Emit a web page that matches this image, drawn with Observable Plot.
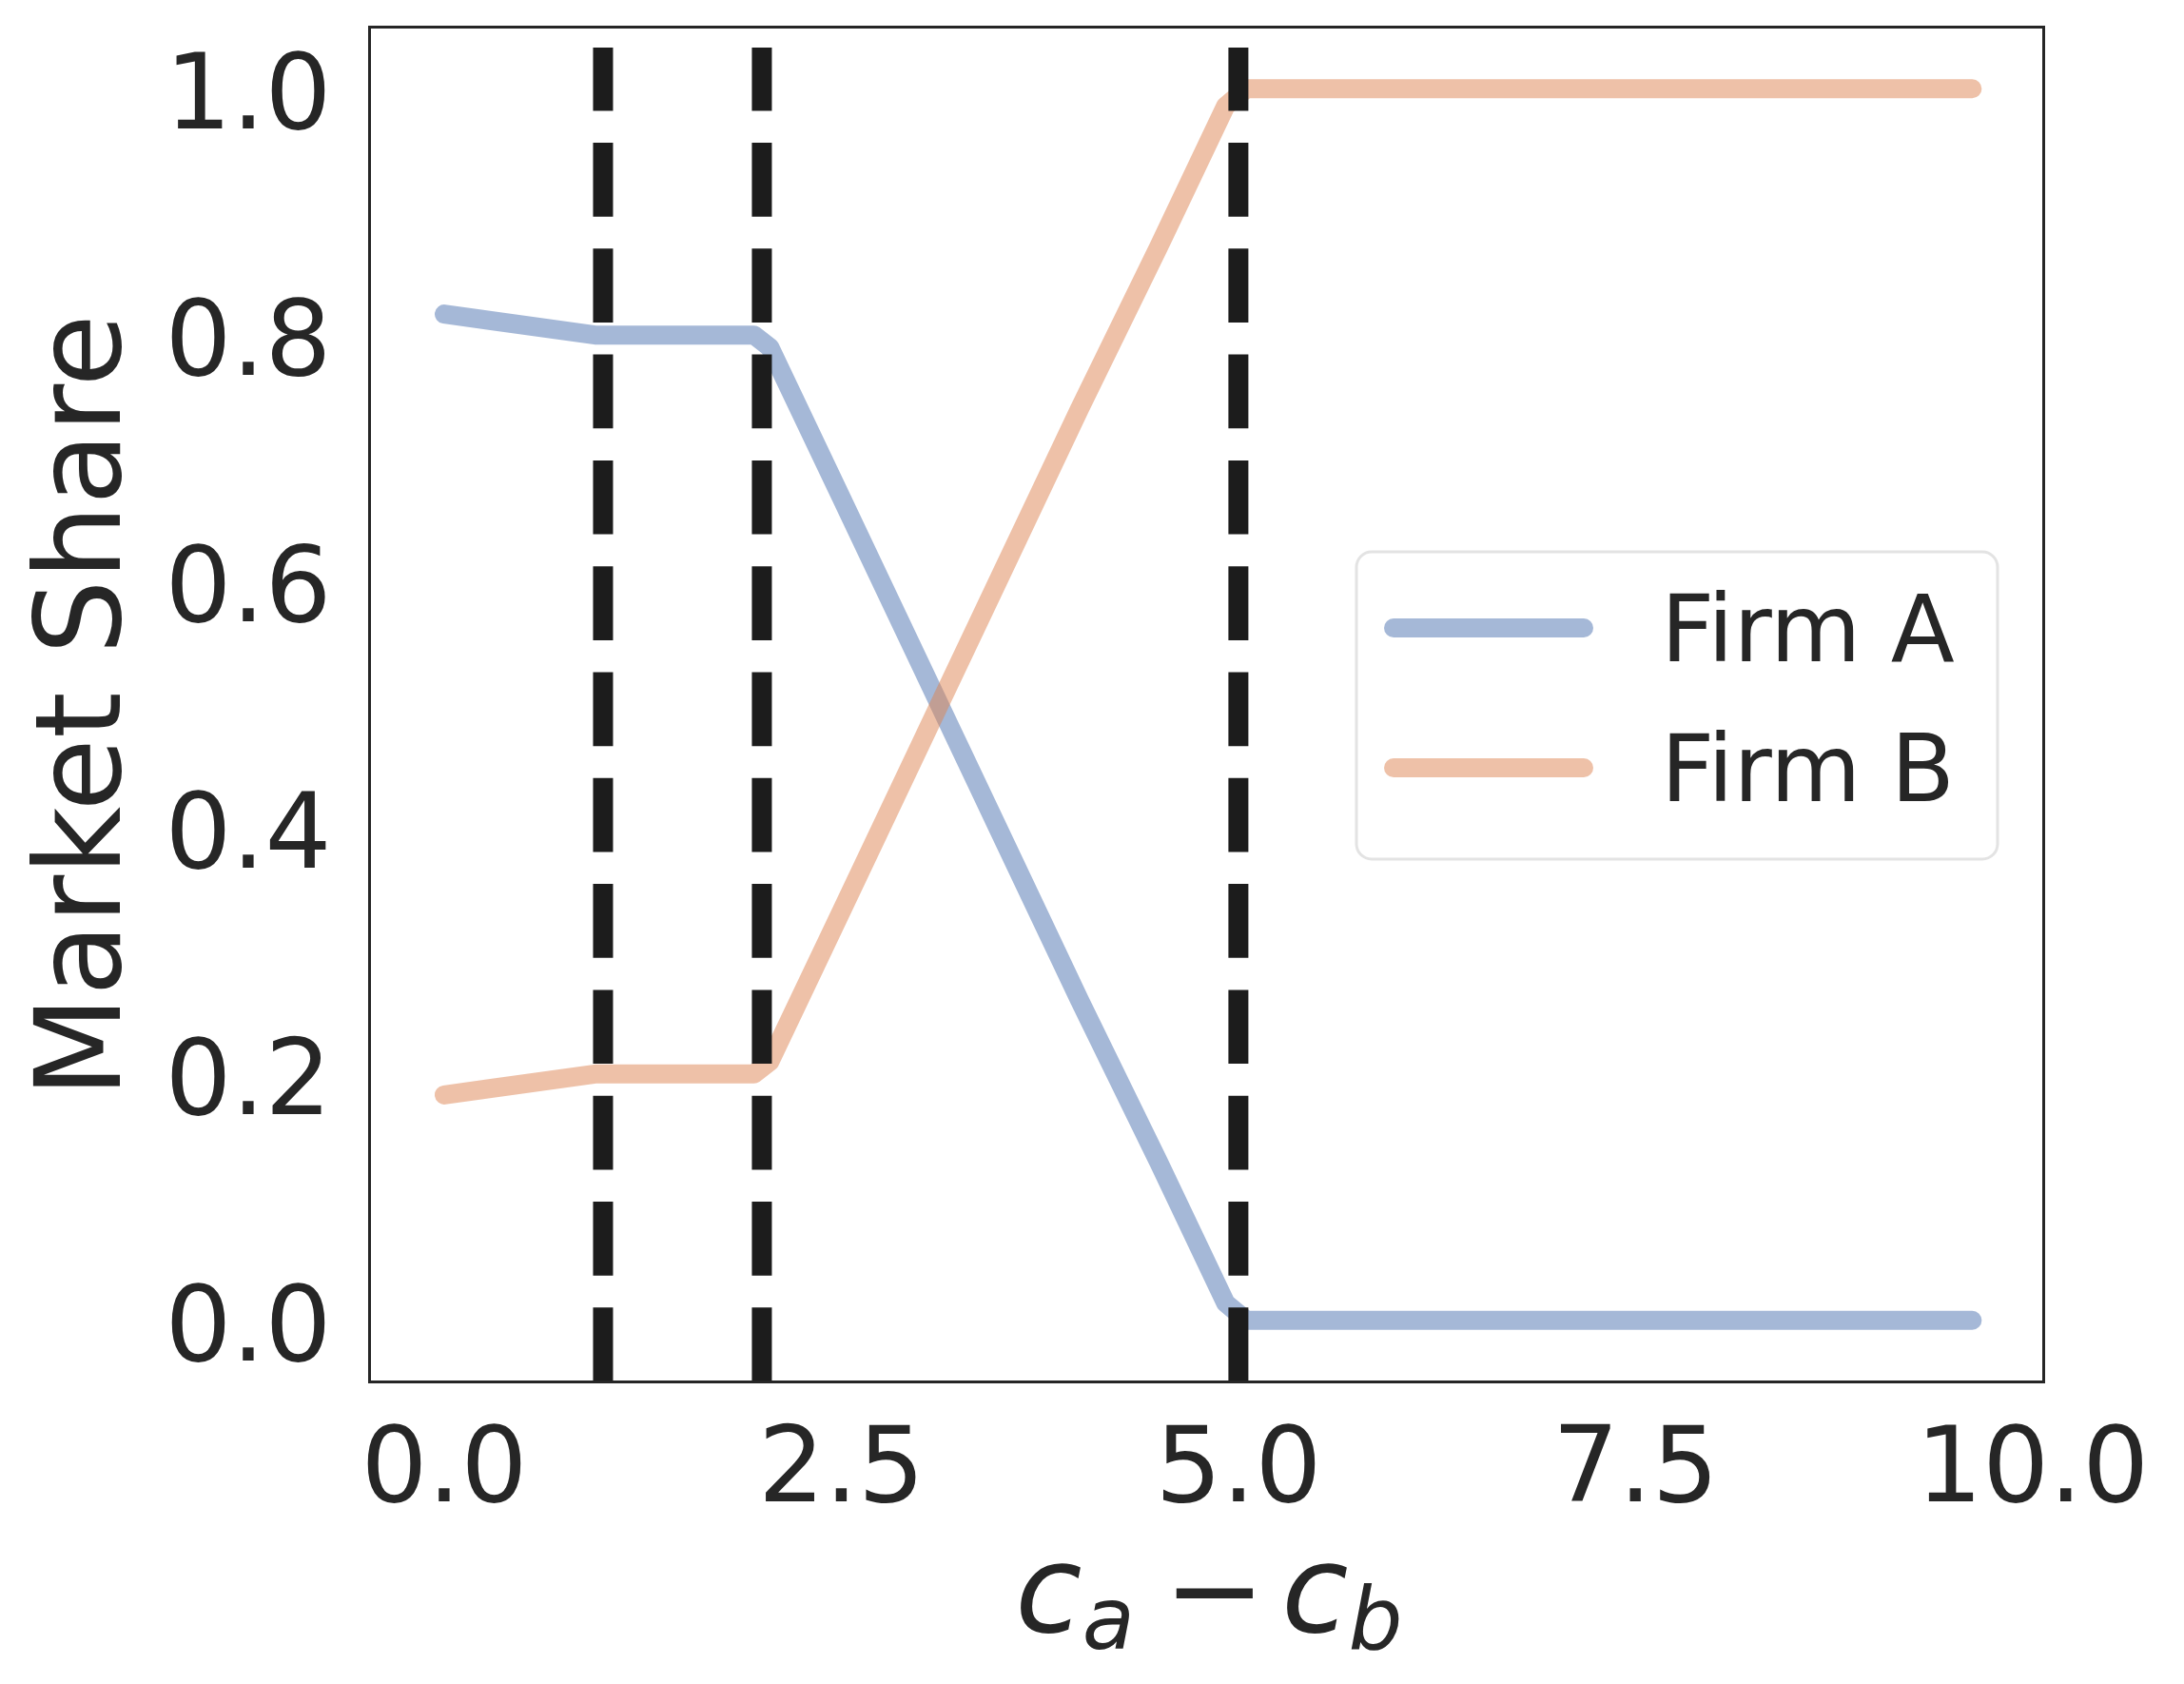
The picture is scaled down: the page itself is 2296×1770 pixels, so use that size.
<!DOCTYPE html>
<html>
<head>
<meta charset="utf-8">
<script src="https://cdn.jsdelivr.net/npm/d3@7"></script>
<script src="https://cdn.jsdelivr.net/npm/@observablehq/plot@0.6"></script>
<style>
  html, body { margin: 0; padding: 0; background: white; }
  #chart { width: 2296px; height: 1770px; }
</style>
</head>
<body>
<div id="chart"></div>
<script>
// ---- data ----
const costDiff = [0, 0.95, 1.95, 2.05, 2.5, 3.0, 3.5, 4.0, 4.5, 4.92, 5.05, 9.62];
const firmA   = [0.817, 0.80, 0.80, 0.79, 0.668, 0.532, 0.396, 0.26, 0.128, 0.014, 0.0, 0.0];
const firmB   = [0.183, 0.20, 0.20, 0.21, 0.332, 0.468, 0.604, 0.74, 0.872, 0.986, 1.0, 1.0];
const firms = ["Firm A", "Firm B"];
const firmColors = ["#4C72B0", "#DD8452"];
const thresholds = [1, 2, 5];
const xTicks = [0, 2.5, 5, 7.5, 10];
const yTicks = [0, 0.2, 0.4, 0.6, 0.8, 1.0];

const rows = [];
costDiff.forEach((x, i) => rows.push({x, share: firmA[i], firm: firms[0]}));
costDiff.forEach((x, i) => rows.push({x, share: firmB[i], firm: firms[1]}));

const fmt = d3.format(".1f");
const ink = "#262626";

const svg = Plot.plot({
  width: 2296,
  height: 1770,
  marginLeft: 388,
  marginRight: 148,
  marginTop: 28,
  marginBottom: 318,
  style: {fontFamily: "DejaVu Sans", fontSize: "110px", color: ink, background: "white"},
  x: {domain: [-0.47, 10.07]},
  y: {domain: [-0.05, 1.05]},
  color: {domain: firms, range: firmColors},
  marks: [
    Plot.axisX(xTicks, {tickSize: 0, tickPadding: 47, tickFormat: fmt, label: null, fontSize: 110}),
    Plot.axisY(yTicks, {tickSize: 0, tickPadding: 40, tickFormat: fmt, label: null, fontSize: 110, dy: 7}),
    Plot.line(rows, {
      x: "x", y: "share", z: "firm", stroke: "firm",
      strokeWidth: 20, strokeOpacity: 0.5,
      strokeLinecap: "round", strokeLinejoin: "round"
    }),
    Plot.ruleX(thresholds, {
      x: d => d, y1: () => -0.05, y2: () => 1.033,
      stroke: "#1c1c1c", strokeWidth: 21, strokeDasharray: "77.7 33.6"
    }),
    Plot.frame({stroke: ink, strokeWidth: 3})
  ]
});

const s = d3.select(svg);

// y label
s.append("text")
  .attr("transform", "translate(126,742) rotate(-90)")
  .attr("text-anchor", "middle")
  .attr("font-family", "DejaVu Sans")
  .attr("font-size", 124)
  .attr("fill", ink)
  .text("Market Share");

// x label (math)
const xl = s.append("text")
  .attr("x", 1271).attr("y", 1715)
  .attr("text-anchor", "middle")
  .attr("font-family", "DejaVu Sans")
  .attr("font-size", 128)
  .attr("fill", ink);
xl.append("tspan").attr("font-style", "italic").text("c");
xl.append("tspan").attr("font-style", "italic").attr("font-size", 90).attr("dy", 18).text("a");
xl.append("tspan").attr("dy", -18).attr("dx", 30).text("\u2212");
xl.append("tspan").attr("font-style", "italic").attr("dx", 17).text("c");
xl.append("tspan").attr("font-style", "italic").attr("font-size", 90).attr("dy", 18).text("b");

// legend
const lg = s.append("g").attr("text-anchor", "start");
lg.append("rect")
  .attr("x", 1426).attr("y", 580).attr("width", 674).attr("height", 323)
  .attr("rx", 16).attr("ry", 16)
  .attr("fill", "white").attr("stroke", "#e3e3e3").attr("stroke-width", 3);
firms.forEach((f, i) => {
  const y = 660 + i * 147;
  lg.append("line")
    .attr("x1", 1465).attr("x2", 1665).attr("y1", y).attr("y2", y)
    .attr("stroke", firmColors[i]).attr("stroke-opacity", 0.5)
    .attr("stroke-width", 20).attr("stroke-linecap", "round");
  lg.append("text")
    .attr("x", 1746).attr("y", y + 35)
    .attr("text-anchor", "start")
    .attr("font-family", "DejaVu Sans").attr("font-size", 98)
    .attr("fill", ink)
    .text(f);
});

document.getElementById("chart").appendChild(svg);
</script>
</body>
</html>
